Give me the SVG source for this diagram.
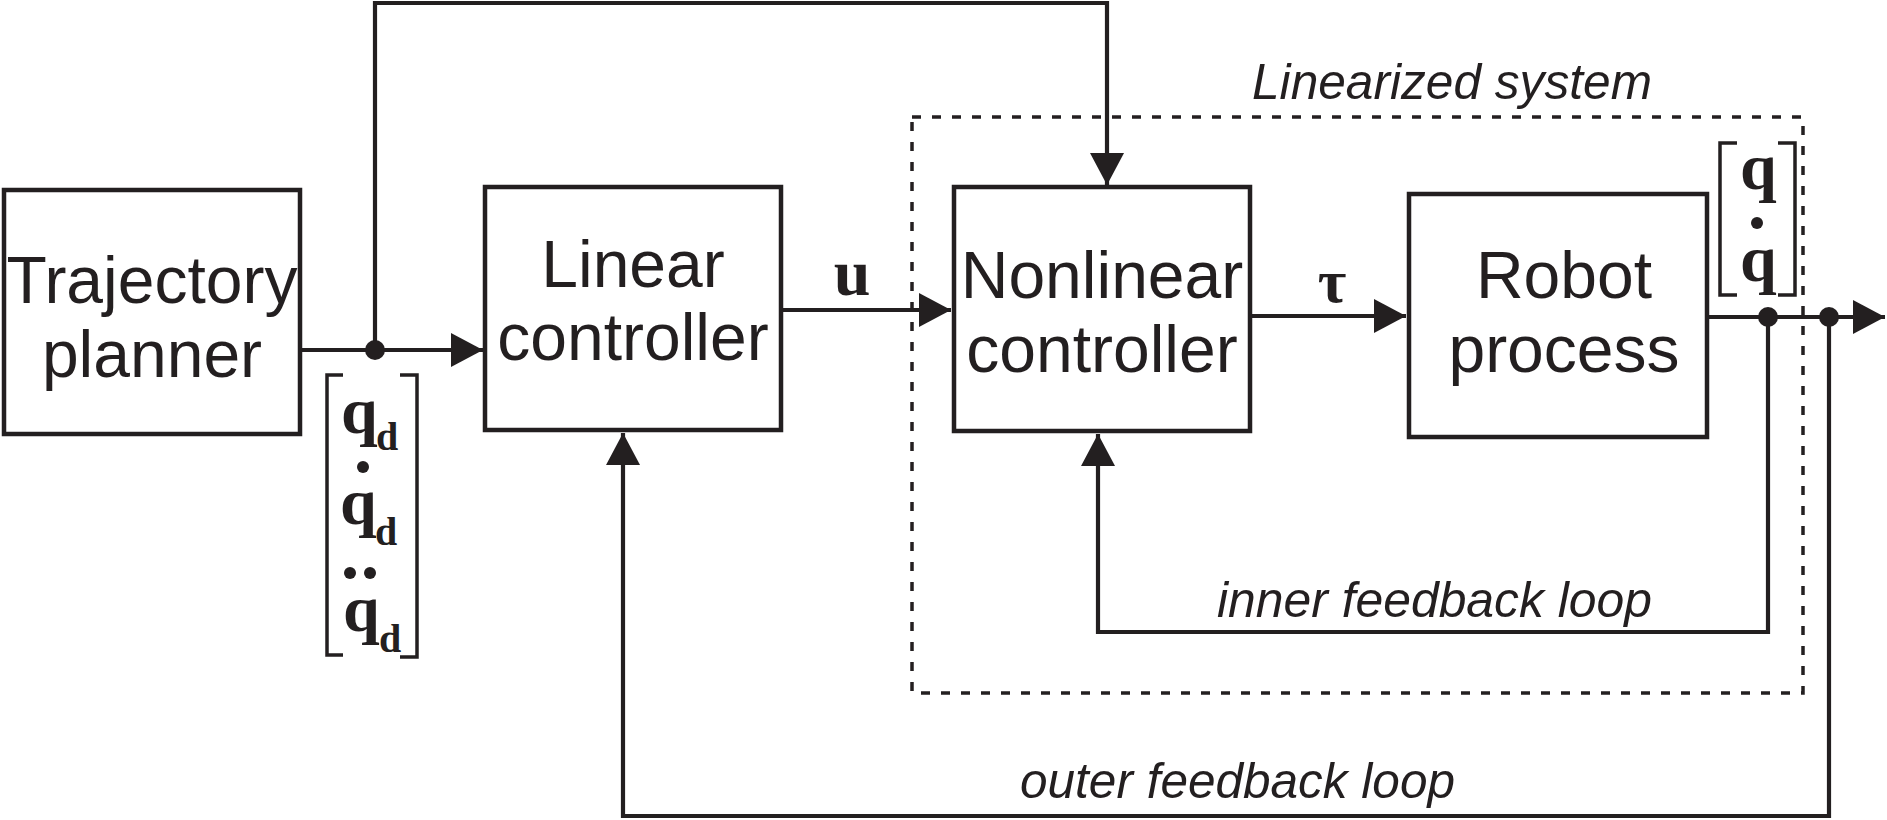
<svg xmlns="http://www.w3.org/2000/svg" width="1887" height="820" viewBox="0 0 1887 820">
<style>
.box{fill:#fff;stroke:#231f20;stroke-width:4.5}
.lbl{font-family:"Liberation Sans",Arial,sans-serif;font-size:66px;fill:#231f20;text-anchor:middle}
.it{font-family:"Liberation Sans",Arial,sans-serif;font-size:50px;font-style:italic;fill:#231f20}
.mth{font-family:"Liberation Serif","Times New Roman",serif;font-weight:bold;fill:#231f20}
.wire{fill:none;stroke:#231f20;stroke-width:4.2}
.brk{fill:none;stroke:#231f20;stroke-width:3.5}
.dot{fill:#231f20}
</style>
<defs>
<marker id="arr" markerUnits="userSpaceOnUse" markerWidth="32" markerHeight="34" viewBox="0 0 32 34" refX="32" refY="17" orient="auto">
<path d="M0,0 L32,17 L0,34 Z" fill="#231f20"/>
</marker>
</defs>
<rect width="1887" height="820" fill="#fff"/>
<g id="linearized-system">
<rect x="912" y="117" width="891" height="576" fill="none" stroke="#231f20" stroke-width="3.5" stroke-dasharray="9 11"/>
<text class="it" x="1252" y="99" textLength="400" lengthAdjust="spacingAndGlyphs">Linearized system</text>
</g>
<g id="connectors">
<path class="wire" d="M302,350 H483" marker-end="url(#arr)"/>
<path class="wire" d="M375,350 V3 H1107 V185" marker-end="url(#arr)"/>
<path class="wire" d="M781,310 H951" marker-end="url(#arr)"/>
<path class="wire" d="M1252,316 H1406" marker-end="url(#arr)"/>
<path class="wire" d="M1707,317 H1885" marker-end="url(#arr)"/>
<path class="wire" d="M1768,317 V632 H1098 V434" marker-end="url(#arr)"/>
<path class="wire" d="M1829,317 V816 H623 V433" marker-end="url(#arr)"/>
<circle class="dot" cx="375" cy="350" r="10"/>
<circle class="dot" cx="1768" cy="317" r="10"/>
<circle class="dot" cx="1829" cy="317" r="10"/>
<text class="mth" x="852" y="295" font-size="66" text-anchor="middle">u</text>
<text class="mth" x="1332" y="302" font-size="62" text-anchor="middle">τ</text>
<text class="it" x="1217" y="617" textLength="435" lengthAdjust="spacingAndGlyphs">inner feedback loop</text>
<text class="it" x="1020" y="798" textLength="435" lengthAdjust="spacingAndGlyphs">outer feedback loop</text>
</g>
<g id="trajectory-planner">
<rect class="box" x="4" y="190" width="296" height="244"/>
<text class="lbl" x="152" y="303">Trajectory</text>
<text class="lbl" x="152" y="377">planner</text>
</g>
<g id="linear-controller">
<rect class="box" x="485" y="187" width="296" height="243"/>
<text class="lbl" x="633" y="287">Linear</text>
<text class="lbl" x="633" y="360">controller</text>
</g>
<g id="nonlinear-controller">
<rect class="box" x="954" y="187" width="296" height="244"/>
<text class="lbl" x="1102" y="298">Nonlinear</text>
<text class="lbl" x="1102" y="372">controller</text>
</g>
<g id="robot-process">
<rect class="box" x="1409" y="194" width="298" height="243"/>
<text class="lbl" x="1564" y="298">Robot</text>
<text class="lbl" x="1564" y="372">process</text>
</g>
<g id="desired-trajectory-vector">
<path class="brk" d="M343,375 H327 V655 H343"/>
<path class="brk" d="M400,375 H417 V657 H400"/>
<text class="mth" x="341" y="433" font-size="66">q</text>
<text class="mth" x="376" y="450" font-size="40">d</text>
<circle class="dot" cx="363" cy="467" r="6"/>
<text class="mth" x="340" y="524" font-size="66">q</text>
<text class="mth" x="375" y="545" font-size="40">d</text>
<circle class="dot" cx="350" cy="573" r="6"/>
<circle class="dot" cx="370" cy="573" r="6"/>
<text class="mth" x="343" y="631" font-size="66">q</text>
<text class="mth" x="379" y="652" font-size="40">d</text>
</g>
<g id="state-vector">
<path class="brk" d="M1737,143 H1720 V295 H1737"/>
<path class="brk" d="M1778,143 H1795 V295 H1778"/>
<text class="mth" x="1740" y="189" font-size="66">q</text>
<circle class="dot" cx="1757" cy="223" r="6"/>
<text class="mth" x="1740" y="281" font-size="66">q</text>
</g>
</svg>
